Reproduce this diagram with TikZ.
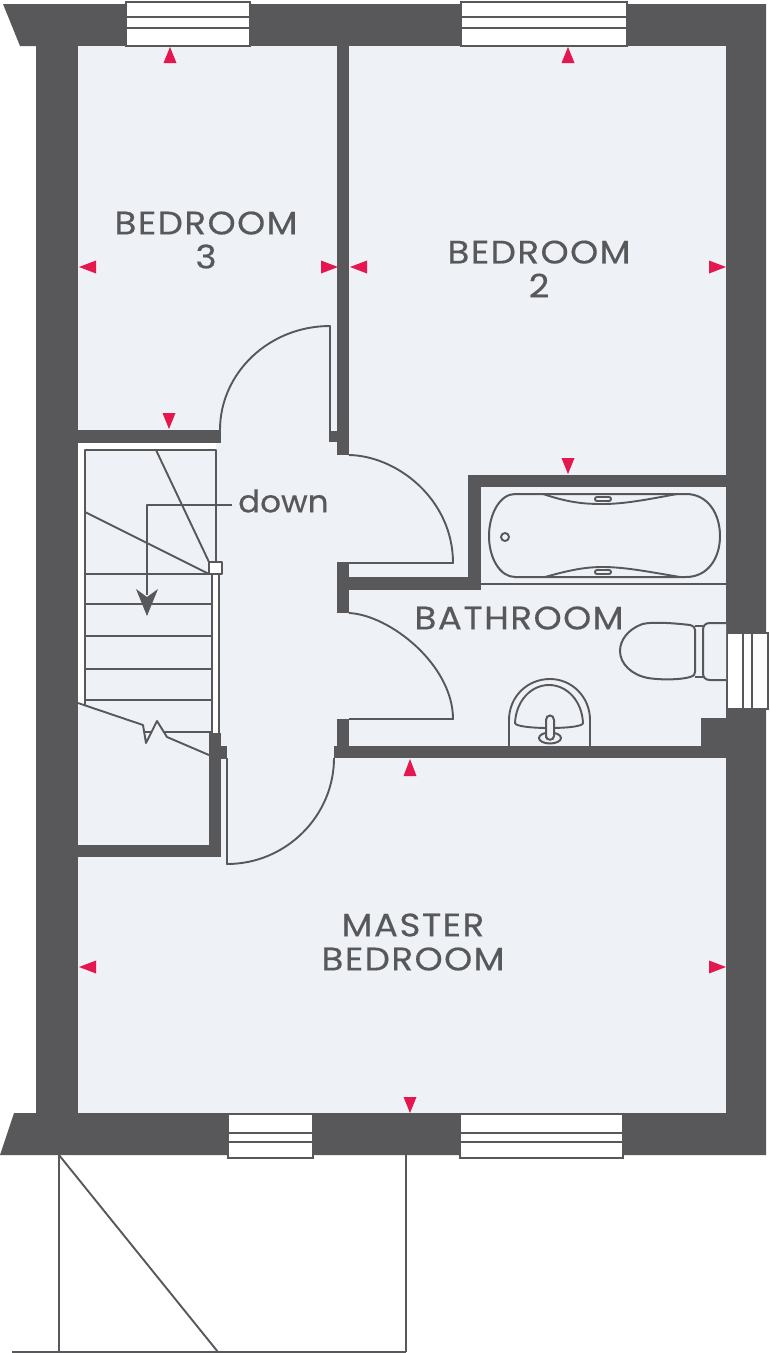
\documentclass[tikz,border=0pt]{standalone}
\usepackage{fontspec}
\setmainfont{Poppins}
\newfontfamily\labelfont[LetterSpace=4.5,FakeStretch=1.1,FakeBold=0.35]{Poppins}
\newfontfamily\downfont[FakeStretch=1.05,FakeBold=0.35]{Poppins}
\definecolor{wallc}{HTML}{58585A}
\definecolor{floorc}{HTML}{EEF1F5}
\definecolor{pinkc}{HTML}{E5174F}
\tikzset{
  wall/.style={fill=wallc,draw=none},
  thinline/.style={draw=wallc,line width=1.9pt,line join=round},
  fixture/.style={draw=wallc,line width=2pt,fill=floorc},
  glass/.style={draw=wallc,line width=1.9pt,fill=white},
  gap/.style={fill=white,draw=none},
  marker/.style={fill=pinkc,draw=none},
  roomlabel/.style={font=\labelfont\fontsize{32.5}{34}\selectfont,text=wallc,align=center,inner sep=0pt}
}
\begin{document}
\begin{tikzpicture}[x=1pt,y=-1pt]
\useasboundingbox (0,0) rectangle (770,1353);
\fill[white] (0,0) rectangle (770,1353);
% outer walls
\fill[wall] (3,4) -- (766,4) -- (766,1155) -- (0,1155) -- (14,1113) -- (36,1113) -- (36,46) -- (20,46) -- cycle;
% floor
\fill[floorc] (78,46) rectangle (726,1113);
% inner walls
\fill[wall] (337,46) rectangle (349,455);
\fill[wall] (329,431) rectangle (337,442);
\fill[wall] (78,430) rectangle (221,443);
\fill[wall] (337,562) rectangle (349,613);
\fill[wall] (337,577) rectangle (481,590);
\fill[wall] (468,475) rectangle (481,590);
\fill[wall] (468,475) rectangle (726,487);
\fill[wall] (337,719) rectangle (349,758);
\fill[wall] (334,746) rectangle (726,758);
\fill[wall] (701,718) rectangle (726,746);
\fill[wall] (209,733) rectangle (221,857);
\fill[wall] (209,746) rectangle (227,759);
\fill[wall] (78,845) rectangle (221,857);
% stairs
\fill[gap] (78,443) rectangle (216,450);
\fill[gap] (78,443) rectangle (85,706);
\fill[gap] (212,574) rectangle (219,733);
\draw[thinline] (85,706) -- (85,450) -- (216,450) -- (216,562);
\draw[thinline] (156,450) -- (209,562);
\draw[thinline] (85,512) -- (209,574);
\foreach \ty in {574,604,636,669,700} \draw[thinline] (85,\ty) -- (212,\ty);
\draw[thinline] (212,574) -- (212,733);
\draw[thinline] (219,574) -- (219,733);
\draw[thinline] (78,703) -- (143,725) -- (146,743) -- (157,721) -- (167,737) -- (209,755);
\draw[thinline] (144,732) -- (152,732);
\draw[thinline] (163,732) -- (212,732);
\draw[thinline,fill=white] (209,562) rectangle (222,574);
% doors
\draw[thinline] (330,431) -- (330,326) .. controls (269,326) and (220,373) .. (220,430);
\draw[thinline] (349,455) .. controls (398,456) and (453,500) .. (453,563) -- (349,563);
\draw[thinline] (349,613) .. controls (390,615) and (453,665) .. (453,719) -- (349,719);
\draw[thinline] (227,758) -- (227,864) .. controls (286,864) and (334,816) .. (334,758);
% windows
\foreach \xa/\xb in {126/250,461/627} {
  \draw[glass] (\xa,2) rectangle (\xb,46);
  \draw[thinline] (\xa,17) -- (\xb,17);
  \draw[thinline] (\xa,28) -- (\xb,28);
}
\foreach \xa/\xb in {228/313,460/623} {
  \draw[glass] (\xa,1114) rectangle (\xb,1158);
  \draw[thinline] (\xa,1133) -- (\xb,1133);
  \draw[thinline] (\xa,1142) -- (\xb,1142);
}
\draw[glass] (727,633) rectangle (768,709);
\draw[thinline] (743,633) -- (743,709);
\draw[thinline] (752,633) -- (752,709);
% bath
\draw[thinline] (481,584) -- (726,584);
\draw[fixture] (515,494) -- (686,494) .. controls (708,494) and (720,514) .. (720,536)
  .. controls (720,558) and (708,577) .. (686,577) -- (515,577)
  .. controls (500,577) and (489,558) .. (489,536) .. controls (489,514) and (500,494) .. (515,494) -- cycle;
\draw[thinline] (543,494) .. controls (570,503) and (585,504) .. (603,504) .. controls (625,504) and (650,499) .. (677,494);
\draw[thinline] (545,577) .. controls (570,570) and (585,567) .. (603,567) .. controls (625,567) and (650,572) .. (680,577);
\draw[thinline] (505,537) circle[radius=4];
\draw[thinline,rounded corners=2pt] (595,497) rectangle (611,501);
\draw[thinline,rounded corners=2pt] (595,570) rectangle (611,574);
% toilet
\draw[fixture] (726,623) -- (710,623) .. controls (705,623) and (703,626) .. (703,630) -- (703,673) .. controls (703,677) and (705,680) .. (710,680) -- (726,680);
\draw[thinline] (695,626) -- (703,626) (695,677) -- (703,677);
\draw[fixture] (690,625) .. controls (665,622) and (645,622) .. (640,625) .. controls (628,630) and (620,640) .. (620,651)
  .. controls (620,664) and (632,675) .. (648,678) .. controls (660,680) and (680,680) .. (690,677)
  .. controls (694,676) and (695,674) .. (695,672) -- (695,630) .. controls (695,628) and (694,626) .. (690,625) -- cycle;
% basin
\draw[thinline] (509,746) -- (509,720) .. controls (509,697) and (527,679) .. (550,679) .. controls (572,679) and (590,697) .. (590,720) -- (590,746);
\draw[thinline] (515,723) .. controls (516,701) and (531,685) .. (549,685) .. controls (567,685) and (582,701) .. (583,723)
  .. controls (583,726) and (570,728) .. (549,728) .. controls (530,728) and (515,726) .. (515,723) -- cycle;
\draw[fixture] (550,738) ellipse[x radius=11,y radius=5.5];
\draw[fixture] (546,738) -- (546,720) .. controls (546,714) and (554,714) .. (554,720) -- (554,736) .. controls (554,741) and (546,741) .. (546,736) -- cycle;
% porch
\draw[thinline] (59,1155) -- (59,1352);
\draw[thinline] (406,1155) -- (406,1352);
\draw[thinline] (59,1155) -- (218,1352);
\draw[thinline] (12,1352) -- (406,1352);
% dimension markers
\foreach \x/\a/\b in {170/47/63,568/47/63,410/759/776} \fill[marker] (\x,\a) -- (\x-6.5,\b) -- (\x+6.5,\b) -- cycle;
\foreach \x/\a/\b in {169/429/413,568/474/458,410/1113/1097} \fill[marker] (\x,\a) -- (\x-6.5,\b) -- (\x+6.5,\b) -- cycle;
\foreach \y/\a/\b in {267/79/96,267/350/367,967/79/96} \fill[marker] (\a,\y) -- (\b,\y-6.5) -- (\b,\y+6.5) -- cycle;
\foreach \y/\a/\b in {267/338/321,267/726/709,967/726/709} \fill[marker] (\a,\y) -- (\b,\y-6.5) -- (\b,\y+6.5) -- cycle;
% labels
\node[roomlabel] (bedthree) at (206,240) {BEDROOM\\3};
\node[roomlabel] (bedtwo) at (539,269) {BEDROOM\\2};
\node[roomlabel] (bath) at (519,618) {BATHROOM};
\node[roomlabel] (master) at (413,942) {MASTER\\BEDROOM};
\node[text=wallc,font=\downfont\fontsize{31}{34}\selectfont,inner sep=0pt,anchor=west] (downlabel) at (238,501) {down};
% stair direction
\coordinate (stairtip) at (147,616);
\coordinate (stairbend) at (147,505);
\draw[thinline] (232,505) -- (stairbend) -- (147,595);
\fill[wall] (stairtip) -- (136,589) -- (147,597) -- (158,589) -- cycle;
\end{tikzpicture}
\end{document}
